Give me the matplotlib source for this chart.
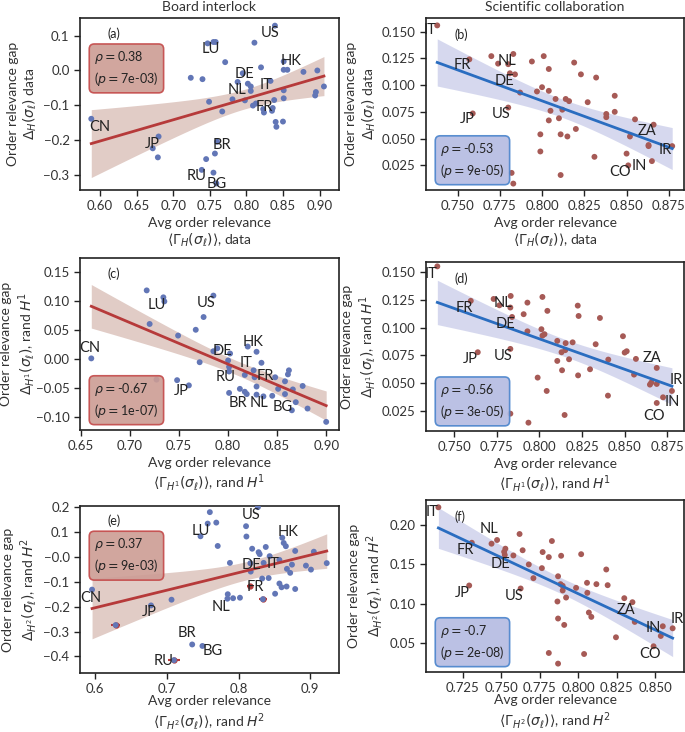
import numpy as np
import matplotlib
matplotlib.use('Agg')
import matplotlib.pyplot as plt

plt.rcParams['font.family'] = ['Lato', 'DejaVu Sans']
plt.rcParams['mathtext.fontset'] = 'dejavusans'
plt.rcParams['axes.unicode_minus'] = True

# ---- (a) board interlock, data ----
a_x = [0.588, 0.680, 0.672, 0.679, 0.724, 0.740, 0.749, 0.747, 0.755, 0.758, 0.771, 0.767,
       0.760, 0.757, 0.745, 0.739, 0.755, 0.759, 0.781, 0.788, 0.795, 0.802, 0.806, 0.806,
       0.798, 0.811, 0.820, 0.809, 0.813, 0.823, 0.824, 0.833, 0.838, 0.836, 0.835, 0.840,
       0.841, 0.850, 0.851, 0.851, 0.839, 0.851, 0.851, 0.856, 0.878, 0.897, 0.895, 0.894,
       0.906]
a_y = [-0.139, -0.190, -0.224, -0.250, -0.021, -0.025, -0.090, 0.078, 0.082, 0.082, 0.024, -0.118,
       -0.205, -0.239, -0.255, -0.286, -0.294, -0.325, -0.083, -0.033, -0.008, -0.038, -0.046, -0.059,
       -0.086, 0.080, 0.009, -0.101, -0.095, -0.111, -0.121, -0.030, -0.085, -0.108, -0.116, -0.148,
       -0.162, -0.147, -0.057, -0.080, 0.129, 0.026, 0.002, 0.002, -0.004, 0.000, -0.062, -0.072,
       -0.046]

# ---- (b) scientific collaboration, data ----
b_x = [0.738, 0.757, 0.770, 0.774, 0.780, 0.783, 0.781, 0.784, 0.787, 0.780, 0.759, 0.782,
       0.783, 0.794, 0.797, 0.800, 0.801, 0.799, 0.799, 0.804, 0.804, 0.805, 0.804, 0.808,
       0.810, 0.812, 0.814, 0.816, 0.811, 0.815, 0.811, 0.819, 0.823, 0.827, 0.820, 0.832,
       0.831, 0.838, 0.838, 0.843, 0.843, 0.850, 0.851, 0.852, 0.855, 0.863, 0.863, 0.866,
       0.865, 0.877]
b_y = [0.1557, 0.124, 0.127, 0.120, 0.1195, 0.129, 0.111, 0.110, 0.093, 0.079, 0.0735, 0.018,
       0.008, 0.122, 0.094, 0.098, 0.127, 0.054, 0.038, 0.115, 0.0946, 0.076, 0.067, 0.087,
       0.069, 0.077, 0.087, 0.085, 0.054, 0.052, 0.016, 0.121, 0.110, 0.084, 0.059, 0.107,
       0.033, 0.073, 0.070, 0.090, 0.075, 0.036, 0.025, 0.052, 0.068, 0.044, 0.043, 0.063,
       0.029, 0.043]

# ---- (c) board interlock, rand H1 ----
c_x = [0.6605, 0.717, 0.720, 0.727, 0.734, 0.735, 0.748, 0.749, 0.760, 0.767, 0.771, 0.775,
       0.785, 0.785, 0.789, 0.800, 0.802, 0.801, 0.801, 0.801, 0.812, 0.817, 0.817, 0.819,
       0.820, 0.826, 0.829, 0.829, 0.829, 0.827, 0.834, 0.836, 0.845, 0.848, 0.851, 0.858,
       0.858, 0.862, 0.861, 0.866, 0.865, 0.869, 0.876, 0.881, 0.900]
c_y = [0.0016, 0.119, 0.061, -0.035, 0.107, 0.100, -0.036, 0.041, -0.045, 0.051, -0.005, 0.073,
       0.110, 0.014, 0.019, -0.002, 0.010, -0.013, -0.021, -0.058, -0.051, -0.027, -0.056, -0.060,
       0.022, -0.019, 0.013, -0.047, -0.061, -0.031, -0.006, -0.064, -0.063, -0.031, -0.051, -0.038,
       -0.060, -0.019, -0.026, -0.052, -0.088, -0.074, -0.046, -0.085, -0.108]

# ---- (d) scientific collaboration, rand H1 ----
d_x = [0.7402, 0.7598, 0.7639, 0.7732, 0.7766, 0.7832, 0.783, 0.784, 0.783, 0.783, 0.7908, 0.793,
       0.793, 0.7936, 0.799, 0.8012, 0.8018, 0.8018, 0.803, 0.8047, 0.8043, 0.8105, 0.8105, 0.813,
       0.8133, 0.8152, 0.8154, 0.8148, 0.8174, 0.8195, 0.8225, 0.823, 0.8227, 0.8297, 0.833, 0.8355,
       0.8404, 0.8402, 0.849, 0.850, 0.8512, 0.8566, 0.8555, 0.8648, 0.8656, 0.8688, 0.8688, 0.8688,
       0.8725, 0.8777]
d_y = [0.155, 0.124, 0.0778, 0.1257, 0.120, 0.1284, 0.118, 0.1095, 0.0808, 0.0226, 0.112, 0.1224,
       0.0966, 0.0145, 0.055, 0.0985, 0.0927, 0.1275, 0.094, 0.115, 0.043, 0.088, 0.070, 0.0778,
       0.0616, 0.0797, 0.086, 0.0214, 0.0715, 0.0867, 0.1197, 0.1104, 0.057, 0.0625, 0.085, 0.1086,
       0.0712, 0.0388, 0.0922, 0.0775, 0.0787, 0.0718, 0.0577, 0.0487, 0.0505, 0.0637, 0.0493, 0.0322,
       0.0373, 0.043]

# ---- (e) board interlock, rand H2 ----
e_x = [0.5958, 0.6287, 0.678, 0.7066, 0.710, 0.7354, 0.7497, 0.747, 0.757, 0.760, 0.769, 0.771,
       0.788, 0.785, 0.7845, 0.7924, 0.802, 0.8105, 0.811, 0.8165, 0.817, 0.819, 0.828, 0.8295,
       0.827, 0.835, 0.833, 0.838, 0.842, 0.8434, 0.857, 0.834, 0.857, 0.860, 0.851, 0.861,
       0.863, 0.866, 0.8675, 0.872, 0.8745, 0.867, 0.879, 0.879, 0.894, 0.901, 0.905, 0.923]
e_y = [-0.1315, -0.274, -0.195, -0.172, -0.415, -0.352, -0.358, 0.083, 0.134, 0.180, 0.138, 0.044,
       -0.024, -0.150, -0.168, -0.166, -0.164, 0.1235, 0.082, -0.0255, -0.059, 0.033, 0.019, 0.011,
       0.200, -0.024, -0.087, 0.040, -0.085, 0.003, -0.012, -0.170, -0.107, -0.122, -0.148, 0.077,
       0.056, 0.043, -0.048, -0.064, -0.031, -0.119, 0.024, -0.129, -0.035, -0.051, 0.021, -0.025]
# points of (e) drawn with their red horizontal error bars
e_err_x = [0.6287, 0.710, 0.834, 0.816]
e_err_y = [-0.274, -0.415, -0.170, -0.118]
e_err_dx = [0.006, 0.008, 0.006, 0.004]

# ---- (f) scientific collaboration, rand H2 ----
f_x = [0.7093, 0.731, 0.7293, 0.7438, 0.7474, 0.752, 0.7528, 0.7524, 0.758, 0.762, 0.7627, 0.764,
       0.768, 0.771, 0.777, 0.7765, 0.781, 0.783, 0.781, 0.787, 0.7866, 0.787, 0.787, 0.789,
       0.7886, 0.790, 0.790, 0.7922, 0.791, 0.7987, 0.802, 0.8039, 0.8058, 0.806, 0.807, 0.8086,
       0.8119, 0.8183, 0.8192, 0.8246, 0.830, 0.8353, 0.8368, 0.849, 0.8537, 0.855, 0.8614]
f_y = [0.2225, 0.1775, 0.1233, 0.1763, 0.181, 0.166, 0.170, 0.162, 0.1614, 0.1886, 0.1195, 0.168,
       0.150, 0.1326, 0.1657, 0.1453, 0.1593, 0.1797, 0.0377, 0.135, 0.103, 0.0814, 0.0242, 0.161,
       0.125, 0.1229, 0.117, 0.108, 0.0733, 0.1203, 0.163, 0.0364, 0.1267, 0.114, 0.089, 0.0835,
       0.125, 0.1436, 0.1237, 0.0576, 0.1072, 0.1021, 0.0771, 0.0462, 0.0593, 0.0716, 0.069]

# country labels: (text, x, y) in data units
a_labels = [('US', 0.833, 0.108), ('LU', 0.751, 0.061), ('HK', 0.861, 0.028), ('DE', 0.798, -0.011),
            ('IT', 0.827, -0.043), ('NL', 0.787, -0.057), ('FR', 0.824, -0.106), ('CN', 0.600, -0.162),
            ('JP', 0.671, -0.211), ('BR', 0.766, -0.213), ('RU', 0.732, -0.303), ('BG', 0.759, -0.326)]
b_labels = [('IT', 0.734, 0.1516), ('FR', 0.753, 0.1185), ('NL', 0.779, 0.1226), ('DE', 0.7777, 0.104),
            ('JP', 0.7555, 0.068), ('US', 0.776, 0.0728), ('ZA', 0.862, 0.0571), ('IR', 0.873, 0.0392),
            ('IN', 0.8576, 0.024), ('CO', 0.846, 0.0187)]
c_labels = [('LU', 0.727, 0.0934), ('US', 0.7775, 0.0975), ('CN', 0.659, 0.019), ('DE', 0.794, 0.015),
            ('HK', 0.825, 0.0305), ('IT', 0.818, -0.0065), ('RU', 0.797, -0.031), ('FR', 0.838, -0.028),
            ('JP', 0.752, -0.0555), ('BR', 0.8105, -0.0757), ('NL', 0.832, -0.0757), ('BG', 0.856, -0.082)]
d_labels = [('IT', 0.7363, 0.1484), ('FR', 0.7559, 0.118), ('NL', 0.7785, 0.1224), ('DE', 0.780, 0.103),
            ('JP', 0.7594, 0.072), ('US', 0.7785, 0.0748), ('ZA', 0.866, 0.0724), ('IR', 0.8805, 0.0526),
            ('IN', 0.8777, 0.0328), ('CO', 0.8672, 0.0205)]
e_labels = [('US', 0.8174, 0.168), ('LU', 0.748, 0.103), ('HK', 0.8684, 0.099), ('DE', 0.8174, -0.031),
            ('IT', 0.8476, -0.028), ('FR', 0.824, -0.119), ('CN', 0.594, -0.165), ('NL', 0.775, -0.201),
            ('JP', 0.675, -0.223), ('BR', 0.728, -0.306), ('BG', 0.764, -0.377), ('RU', 0.696, -0.420)]
f_labels = [('IT', 0.705, 0.217), ('NL', 0.7422, 0.1945), ('FR', 0.7267, 0.1678), ('DE', 0.7498, 0.150),
            ('JP', 0.725, 0.114), ('US', 0.7584, 0.110), ('ZA', 0.8313, 0.0924), ('IR', 0.8645, 0.0814),
            ('IN', 0.849, 0.070), ('CO', 0.847, 0.036)]

rho = ['0.38', '-0.53', '-0.67', '-0.56', '0.37', '-0.7']
pval = ['7e-03', '9e-05', '1e-07', '3e-05', '9e-03', '2e-08']
letters = ['(a)', '(b)', '(c)', '(d)', '(e)', '(f)']

ylab2 = [r'$\Delta_H(\sigma_\ell)$ data', r'$\Delta_H(\sigma_\ell)$ data',
         r'$\Delta_{H^1}(\sigma_\ell)$, rand $H^1$', r'$\Delta_{H^1}(\sigma_\ell)$, rand $H^1$',
         r'$\Delta_{H^2}(\sigma_\ell)$, rand $H^2$', r'$\Delta_{H^2}(\sigma_\ell)$, rand $H^2$']
xlab2 = [r'$\langle\Gamma_H(\sigma_\ell)\rangle$, data', r'$\langle\Gamma_H(\sigma_\ell)\rangle$, data',
         r'$\langle\Gamma_{H^1}(\sigma_\ell)\rangle$, rand $H^1$', r'$\langle\Gamma_{H^1}(\sigma_\ell)\rangle$, rand $H^1$',
         r'$\langle\Gamma_{H^2}(\sigma_\ell)\rangle$, rand $H^2$', r'$\langle\Gamma_{H^2}(\sigma_\ell)\rangle$, rand $H^2$']

xlims = [(0.5726, 0.9265), (0.7314, 0.884), (0.649, 0.913), (0.7336, 0.8848), (0.579, 0.940), (0.7013, 0.8688)]
ylims = [(-0.344, 0.151), (0.002, 0.1626), (-0.122, 0.175), (0.007, 0.159), (-0.467, 0.204), (0.0136, 0.2318)]
xticks = [np.arange(0.60, 0.91, 0.05), np.arange(0.750, 0.876, 0.025), np.arange(0.65, 0.91, 0.05),
          np.arange(0.750, 0.876, 0.025), np.arange(0.6, 0.91, 0.1), np.arange(0.725, 0.851, 0.025)]
yticks = [np.arange(-0.3, 0.11, 0.1), np.arange(0.025, 0.151, 0.025), np.arange(-0.10, 0.151, 0.05),
          np.arange(0.025, 0.151, 0.025), np.arange(-0.4, 0.21, 0.1), np.arange(0.05, 0.21, 0.05)]
xfmt = ['%.2f', '%.3f', '%.2f', '%.3f', '%.1f', '%.3f']
yfmt = ['%.1f', '%.3f', '%.2f', '%.3f', '%.1f', '%.2f']

# axes rectangles in figure fraction
rects = [[0.1168, 0.7404, 0.378, 0.235], [0.622, 0.7404, 0.3766, 0.235],
         [0.1168, 0.4126, 0.378, 0.235], [0.622, 0.4112, 0.3766, 0.231],
         [0.1168, 0.0805, 0.378, 0.228], [0.622, 0.082, 0.3766, 0.235]]
# correlation box corner: top-left or bottom-left
box_top = [True, False, False, False, True, False]

xs_all = [a_x, b_x, c_x, d_x, e_x, f_x]
ys_all = [a_y, b_y, c_y, d_y, e_y, f_y]
labels_all = [a_labels, b_labels, c_labels, d_labels, e_labels, f_labels]

left_pt, right_pt = '#6276b6', '#a65a56'
left_line, right_line = '#b63a3a', '#2a6dc0'
left_band, right_band = '#dcc3bc', '#cfd2ec'
left_box, right_box = '#cc9c94', '#b4bbe2'
left_edge, right_edge = '#c44a4a', '#4a84cc'


def fit_band(x, y):
    x = np.asarray(x)
    y = np.asarray(y)
    n = len(x)
    b, a = np.polyfit(x, y, 1)
    grid = np.linspace(x.min(), x.max(), 100)
    res = y - (a + b * x)
    s = np.sqrt((res ** 2).sum() / (n - 2))
    sxx = ((x - x.mean()) ** 2).sum()
    se = s * np.sqrt(1.0 / n + (grid - x.mean()) ** 2 / sxx)
    fit = a + b * grid
    return grid, fit, fit - 2.01 * se, fit + 2.01 * se


fig = plt.figure(figsize=(6.85, 7.32), dpi=100)

for i in range(6):
    ax = fig.add_axes(rects[i])
    left = (i % 2 == 0)
    pc = left_pt if left else right_pt
    lc = left_line if left else right_line
    bc = left_band if left else right_band

    x = xs_all[i]
    y = ys_all[i]
    grid, fit, lo, hi = fit_band(x, y)
    ax.fill_between(grid, lo, hi, color=bc, alpha=0.85, lw=0, zorder=1)
    if i == 4:
        ax.errorbar(e_err_x, e_err_y, xerr=e_err_dx, fmt='o', ms=3.5, color=left_line,
                    elinewidth=1.5, capsize=0, zorder=2)
    ax.scatter(x, y, s=18, color=pc, edgecolor='none', zorder=3)
    ax.plot(grid, fit, color=lc, lw=2, zorder=4)

    for t, lx, ly in labels_all[i]:
        ax.text(lx, ly, t, ha='center', va='center', fontsize=10.5, color='#222222', zorder=5)

    ax.set_xlim(*xlims[i])
    ax.set_ylim(*ylims[i])
    ax.set_xticks(xticks[i])
    ax.set_xticklabels([xfmt[i] % v for v in xticks[i]])
    ax.set_yticks(yticks[i])
    ax.set_yticklabels([(yfmt[i] % v).replace('-', '\u2212') for v in yticks[i]])
    ax.tick_params(labelsize=9.5, length=4, width=1, color='#222222', labelcolor='#333333')
    for sp in ax.spines.values():
        sp.set_linewidth(1.2)
        sp.set_color('#222222')

    ax.set_ylabel('Order relevance gap\n' + ylab2[i], fontsize=10, color='#333333',
                  linespacing=1.25, labelpad=-1 if i == 2 else 3)
    ax.set_xlabel('Avg order relevance\n' + xlab2[i], fontsize=10, color='#333333',
                  linespacing=1.2, labelpad=0 if i >= 4 else 3)

    # panel letter
    ax.text(0.105 if left else 0.11, 0.91 if left else 0.90, letters[i], transform=ax.transAxes,
            fontsize=9, color='#222222', ha='left', va='center')

    # correlation box
    txt = r'$\rho = $' + rho[i] + '\n' + r'($p = $' + pval[i] + ')'
    fc = left_box if left else right_box
    ec = left_edge if left else right_edge
    if box_top[i]:
        ax.text(0.055, 0.82, txt, transform=ax.transAxes, fontsize=9, ha='left', va='top',
                color='#222222', linespacing=1.3,
                bbox=dict(boxstyle='round,pad=0.4', fc=fc, ec=ec, lw=1.2, alpha=0.9))
    else:
        ax.text(0.055, 0.06, txt, transform=ax.transAxes, fontsize=9, ha='left', va='bottom',
                color='#222222', linespacing=1.3,
                bbox=dict(boxstyle='round,pad=0.4', fc=fc, ec=ec, lw=1.2, alpha=0.9))

    if i == 0:
        ax.set_title('Board interlock', fontsize=10, color='#333333', pad=5)
    if i == 1:
        ax.set_title('Scientific collaboration', fontsize=10, color='#333333', pad=5)

fig.savefig('out.png', dpi=100)
